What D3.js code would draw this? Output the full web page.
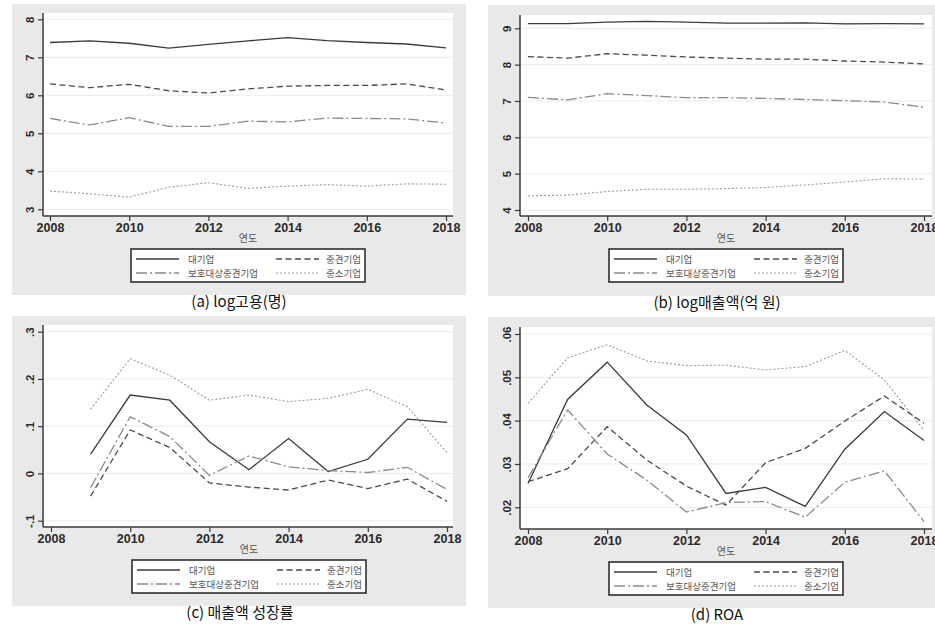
<!DOCTYPE html>
<html>
<head>
<meta charset="utf-8">
<script src="https://cdn.jsdelivr.net/npm/d3@7"></script>
<style>
  body { margin: 0; background: #fff; }
  svg { display: block; }
</style>
</head>
<body>
<svg width="935" height="626"></svg>
<script>
// data
var years = [2008, 2009, 2010, 2011, 2012, 2013, 2014, 2015, 2016, 2017, 2018];
var yearsG = [2009, 2010, 2011, 2012, 2013, 2014, 2015, 2016, 2017, 2018];
var seriesNames = ['대기업', '중견기업', '보호대상중견기업', '중소기업'];
var xTicks = [2008, 2010, 2012, 2014, 2016, 2018];

// (a) log 고용
var empLarge = [7.39, 7.43, 7.37, 7.24, 7.34, 7.43, 7.52, 7.44, 7.39, 7.35, 7.25];
var empMid = [6.30, 6.20, 6.29, 6.12, 6.06, 6.17, 6.24, 6.26, 6.26, 6.30, 6.14];
var empProt = [5.39, 5.22, 5.41, 5.18, 5.18, 5.32, 5.30, 5.40, 5.39, 5.38, 5.27];
var empSmall = [3.48, 3.41, 3.32, 3.58, 3.70, 3.55, 3.61, 3.65, 3.61, 3.67, 3.66];
var empTicks = [3, 4, 5, 6, 7, 8];
var empTickLabels = ['3', '4', '5', '6', '7', '8'];

// (b) log 매출액
var salLarge = [9.13, 9.13, 9.17, 9.19, 9.17, 9.14, 9.14, 9.15, 9.12, 9.13, 9.12];
var salMid = [8.22, 8.18, 8.30, 8.26, 8.21, 8.18, 8.15, 8.15, 8.10, 8.07, 8.02];
var salProt = [7.10, 7.03, 7.20, 7.15, 7.09, 7.09, 7.07, 7.04, 7.01, 6.97, 6.83];
var salSmall = [4.39, 4.41, 4.51, 4.57, 4.57, 4.59, 4.62, 4.69, 4.77, 4.86, 4.85];
var salTicks = [4, 5, 6, 7, 8, 9];
var salTickLabels = ['4', '5', '6', '7', '8', '9'];

// (c) 매출액 성장률 (from 2009)
var grLarge = [0.041, 0.166, 0.155, 0.067, 0.008, 0.074, 0.004, 0.030, 0.115, 0.108];
var grMid = [-0.048, 0.092, 0.055, -0.020, -0.029, -0.035, -0.014, -0.032, -0.012, -0.059];
var grProt = [-0.030, 0.120, 0.078, -0.004, 0.037, 0.014, 0.006, 0.002, 0.013, -0.034];
var grSmall = [0.136, 0.243, 0.208, 0.155, 0.166, 0.152, 0.159, 0.178, 0.141, 0.044];
var grTicks = [-0.1, 0, 0.1, 0.2, 0.3];
var grTickLabels = ['-.1', '0', '.1', '.2', '.3'];

// (d) ROA
var roaLarge = [0.0255, 0.0449, 0.0535, 0.0436, 0.0367, 0.0232, 0.0246, 0.0202, 0.0334, 0.0421, 0.0354];
var roaMid = [0.0259, 0.0289, 0.0386, 0.0309, 0.0249, 0.0205, 0.0303, 0.0336, 0.0399, 0.0457, 0.0394];
var roaProt = [0.0268, 0.0425, 0.0323, 0.0263, 0.0189, 0.0211, 0.0213, 0.0177, 0.0258, 0.0284, 0.0167];
var roaSmall = [0.0440, 0.0545, 0.0575, 0.0538, 0.0527, 0.0528, 0.0517, 0.0525, 0.0562, 0.0494, 0.0378];
var roaTicks = [0.02, 0.03, 0.04, 0.05, 0.06];
var roaTickLabels = ['.02', '.03', '.04', '.05', '.06'];

var svg = d3.select('svg');
var numFont = '"Liberation Sans", Arial, sans-serif';
var krFont = '"Noto Sans CJK KR", "Noto Sans", sans-serif';

// line styles for the four groups
var styles = [
  {stroke: '#3a3a3a', dash: null, w: 1.3},
  {stroke: '#4a4a4a', dash: '6,3.5', w: 1.3},
  {stroke: '#8a8a8a', dash: '11,3,2,3', w: 1.3},
  {stroke: '#9a9a9a', dash: '2,2', w: 1.1}
];

var panels = [
  {caption: '(a) log고용(명)', xs: years, series: [empLarge, empMid, empProt, empSmall],
   ticks: empTicks, labels: empTickLabels, yDom: [3, 8],
   bg: [12, 4, 454, 291], plot: [43, 13, 453, 216], xr: [50, 446], yr: [209.3, 19.3]},
  {caption: '(b) log매출액(억 원)', xs: years, series: [salLarge, salMid, salProt, salSmall],
   ticks: salTicks, labels: salTickLabels, yDom: [4, 9],
   bg: [488, 5, 447, 291], plot: [520, 15, 932, 216], xr: [528, 924], yr: [210, 28.3]},
  {caption: '(c) 매출액 성장률', xs: yearsG, series: [grLarge, grMid, grProt, grSmall],
   ticks: grTicks, labels: grTickLabels, yDom: [-0.1, 0.3],
   bg: [12, 316, 454, 290], plot: [43, 325, 453, 527], xr: [51, 447], yr: [520.7, 331.7]},
  {caption: '(d) ROA', xs: years, series: [roaLarge, roaMid, roaProt, roaSmall],
   ticks: roaTicks, labels: roaTickLabels, yDom: [0.02, 0.06],
   bg: [488, 317, 447, 291], plot: [520, 327, 932, 529], xr: [528, 924], yr: [507.3, 334]}
];

panels.forEach(drawPanel);

function drawPanel(p) {
  var g = svg.append('g');
  var L = p.plot[0], T = p.plot[1], R = p.plot[2], B = p.plot[3];

  g.append('rect').attr('x', p.bg[0]).attr('y', p.bg[1])
    .attr('width', p.bg[2]).attr('height', p.bg[3]).attr('fill', '#e9e9e9');
  g.append('rect').attr('x', L).attr('y', T)
    .attr('width', R - L).attr('height', B - T).attr('fill', '#fff');

  var x = d3.scaleLinear().domain([2008, 2018]).range(p.xr);
  var y = d3.scaleLinear().domain(p.yDom).range(p.yr);

  // grid lines
  g.selectAll('.grid').data(p.ticks).enter().append('line')
    .attr('x1', L).attr('x2', R)
    .attr('y1', d => y(d)).attr('y2', d => y(d))
    .attr('stroke', '#ececec').attr('stroke-width', 1);

  // lines
  p.series.forEach(function (vals, i) {
    var st = styles[i];
    var line = d3.line().x((d, j) => x(p.xs[j])).y(d => y(d));
    g.append('path').datum(vals)
      .attr('d', line)
      .attr('fill', 'none')
      .attr('stroke', st.stroke)
      .attr('stroke-width', st.w)
      .attr('stroke-dasharray', st.dash);
  });

  // x axis
  var xAxis = d3.axisBottom(x).tickValues(xTicks).tickFormat(d3.format('d')).tickSize(5).tickSizeOuter(0);
  var gx = g.append('g').attr('transform', 'translate(0,' + B + ')').call(xAxis);
  gx.select('.domain').remove();
  gx.append('line').attr('x1', L).attr('x2', R).attr('stroke', '#3a3a3a').attr('stroke-width', 1.5);
  gx.selectAll('.tick line').attr('stroke', '#3a3a3a').attr('stroke-width', 1.2);
  gx.selectAll('.tick text').attr('font-family', numFont).attr('font-size', 12.5)
    .attr('font-weight', 'bold').attr('fill', '#2a2a2a').attr('dy', '0.85em').attr('y', 5);

  // y axis
  var yAxis = d3.axisLeft(y).tickValues(p.ticks).tickFormat((d, i) => p.labels[i]).tickSize(5).tickSizeOuter(0);
  var gy = g.append('g').attr('transform', 'translate(' + L + ',0)').call(yAxis);
  gy.select('.domain').remove();
  gy.append('line').attr('y1', T).attr('y2', B).attr('stroke', '#3a3a3a').attr('stroke-width', 1.5);
  gy.selectAll('.tick line').attr('stroke', '#3a3a3a').attr('stroke-width', 1.2);
  gy.selectAll('.tick text')
    .attr('x', null).attr('dy', null)
    .attr('transform', 'translate(-13,0) rotate(-90)')
    .attr('text-anchor', 'middle').attr('dominant-baseline', 'central')
    .attr('font-family', numFont).attr('font-size', 11.5)
    .attr('font-weight', 'bold').attr('fill', '#2a2a2a');

  // x axis title
  var cx = (p.xr[0] + p.xr[1]) / 2;
  g.append('text').attr('x', cx).attr('y', B + 26)
    .attr('text-anchor', 'middle').attr('font-family', krFont)
    .attr('font-size', 10).attr('fill', '#555').text('연도');

  // legend
  var lx = cx - 117, ly = B + 33, lw = 234, lh = 33;
  g.append('rect').attr('x', lx).attr('y', ly).attr('width', lw).attr('height', lh)
    .attr('fill', '#fff').attr('stroke', '#222').attr('stroke-width', 1.5);
  var legPos = [
    {x: lx + 5, y: ly + 10, tx: lx + 57, anchor: 'start'},
    {x: lx + 145, y: ly + 10, tx: lx + 230, anchor: 'end'},
    {x: lx + 5, y: ly + 24, tx: lx + 57, anchor: 'start'},
    {x: lx + 145, y: ly + 24, tx: lx + 230, anchor: 'end'}
  ];
  seriesNames.forEach(function (name, i) {
    var st = styles[i], lp = legPos[i];
    g.append('line').attr('x1', lp.x).attr('x2', lp.x + 43)
      .attr('y1', lp.y).attr('y2', lp.y)
      .attr('stroke', st.stroke).attr('stroke-width', st.w)
      .attr('stroke-dasharray', st.dash);
    g.append('text').attr('x', lp.tx).attr('y', lp.y)
      .attr('dominant-baseline', 'central').attr('text-anchor', lp.anchor)
      .attr('font-family', krFont).attr('font-size', 9.5).attr('fill', '#555')
      .text(name);
  });

  // caption
  g.append('text').attr('x', cx - 9).attr('y', p.bg[1] + p.bg[3] + 12)
    .attr('text-anchor', 'middle').attr('font-family', krFont)
    .attr('font-size', 15).attr('fill', '#111').text(p.caption);
}
</script>
</body>
</html>
